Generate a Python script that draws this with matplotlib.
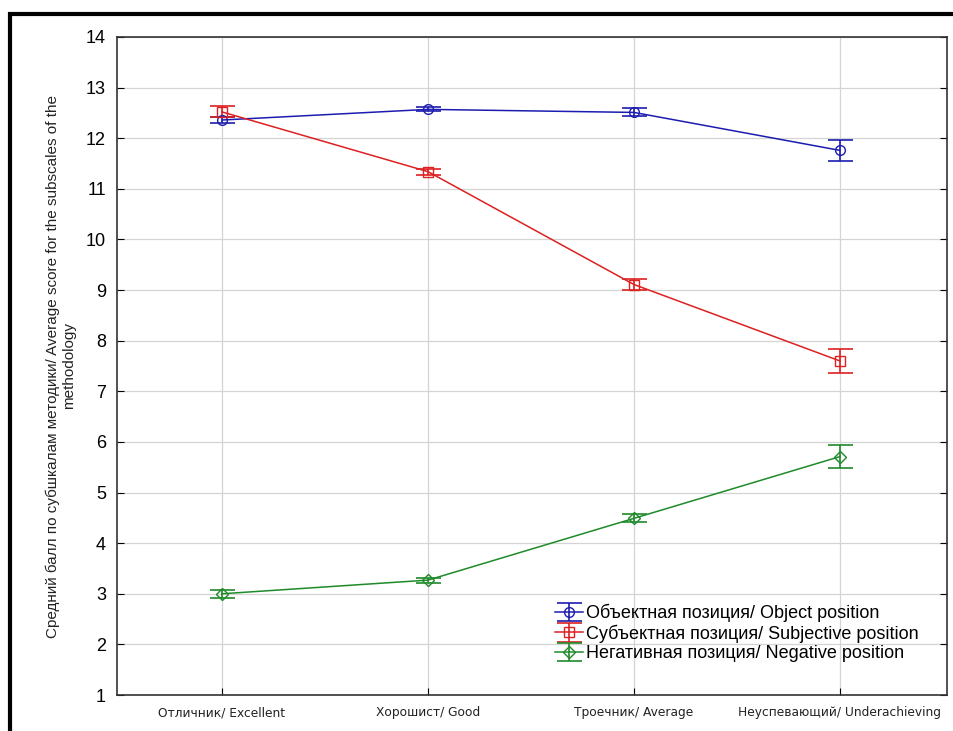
import matplotlib.pyplot as plt
from matplotlib.patches import Rectangle

# categories and values
categories = ["Отличник/ Excellent", "Хорошист/ Good", "Троечник/ Average", "Неуспевающий/ Underachieving"]
object_mean = [12.36, 12.57, 12.51, 11.76]
object_err = [0.06, 0.04, 0.08, 0.21]
subject_mean = [12.52, 11.34, 9.11, 7.6]
subject_err = [0.11, 0.06, 0.10, 0.24]
negative_mean = [3.0, 3.27, 4.49, 5.71]
negative_err = [0.08, 0.05, 0.08, 0.22]
series_labels = ["Объектная позиция/ Object position",
                 "Субъектная позиция/ Subjective position",
                 "Негативная позиция/ Negative position"]

plt.rcParams['font.family'] = ['Liberation Sans', 'DejaVu Sans']

fig = plt.figure(figsize=(9.54, 7.31), dpi=100)
# thick black frame around the picture (only top and left are visible)
fig.patches.append(Rectangle((10 / 954, -0.1), 1.2, 1 - 14 / 731 + 0.1,
                             transform=fig.transFigure, fill=False,
                             edgecolor="black", linewidth=3))

ax = fig.add_axes([117 / 954, 1 - 695 / 731, 830 / 954, 658 / 731])
x = list(range(len(categories)))

styles = [
    (object_mean, object_err, "#1c1cb0", "o"),
    (subject_mean, subject_err, "#dd2020", "s"),
    (negative_mean, negative_err, "#1f8a2a", "D"),
]
for (mean, err, col, mk), lab in zip(styles, series_labels):
    ax.errorbar(x, mean, yerr=err, color=col, marker=mk, markersize=7 if mk != "D" else 6,
                markerfacecolor="none", markeredgecolor=col, linewidth=1.1,
                capsize=9, capthick=1.2, elinewidth=1.2, label=lab)

ax.set_xlim(-0.51, 3.52)
ax.set_ylim(1, 14)
ax.set_yticks(range(1, 15))
ax.set_xticks(x)
ax.set_xticklabels(categories, fontsize=8.8, family="DejaVu Sans", color="#222222")
ax.tick_params(axis="y", labelsize=13, direction="in", right=True, length=5, pad=8)
ax.tick_params(axis="x", direction="in", length=5, pad=8)
ax.grid(True, color="#d4d4d4", linewidth=0.9)
ax.set_axisbelow(True)
for s in ax.spines.values():
    s.set_color("#333333")
    s.set_linewidth(1.2)

ax.set_ylabel("Средний балл по субшкалам методики/ Average score for the subscales of the\nmethodology",
              fontsize=11, labelpad=7, color="#222222", linespacing=1.2)

leg = ax.legend(loc="lower left", bbox_to_anchor=(0.513, 0.031), frameon=False,
                fontsize=13, handlelength=1.5, handletextpad=0.2, borderpad=0.2,
                labelspacing=0.12)

fig.savefig("out.png", dpi=100)
